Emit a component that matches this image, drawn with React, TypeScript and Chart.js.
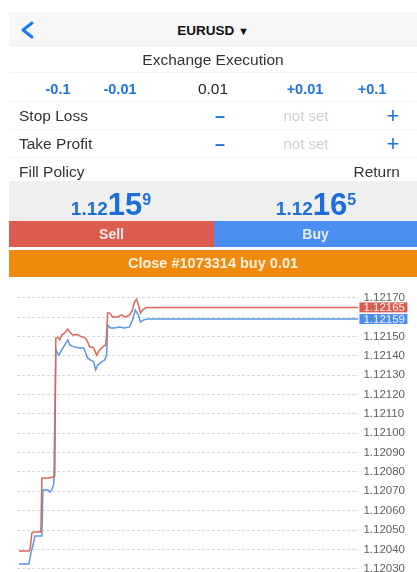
import React, { useEffect, useRef } from 'react';
import { Chart, registerables } from 'chart.js';

Chart.register(...registerables);

// ---- data ----
const symbol = 'EURUSD';
const lotSteps = ['-0.1', '-0.01', '0.01', '+0.01', '+0.1'];
const bidPrice = '1.12159';
const askPrice = '1.12165';
const closeLabel = 'Close #1073314 buy 0.01';

const askTimes = [2, 12, 13, 14, 15, 17, 24, 25, 33, 36, 38, 39, 41, 43, 45, 48, 51, 53, 56, 61, 64, 66, 69, 71, 73, 76, 78, 80, 83, 86, 89, 90, 91, 93, 96, 101, 105, 109, 113, 116, 118, 120, 122, 124, 126, 129, 132, 343];
const askPrices = [1.120392, 1.120392, 1.120397, 1.12044, 1.120485, 1.12049, 1.12049, 1.120769, 1.120769, 1.120774, 1.12078, 1.121492, 1.121495, 1.121482, 1.121507, 1.121518, 1.121538, 1.121523, 1.121507, 1.12151, 1.1215, 1.121497, 1.12149, 1.121471, 1.121445, 1.121445, 1.12143, 1.121403, 1.12143, 1.121445, 1.121456, 1.1215, 1.121621, 1.121621, 1.1216, 1.1216, 1.121611, 1.1216, 1.121611, 1.121636, 1.121678, 1.121693, 1.121662, 1.121621, 1.121636, 1.121647, 1.12165, 1.12165];

const bidTimes = [2, 12, 14, 16, 18, 25, 26, 31, 33, 35, 37, 39, 42, 45, 48, 51, 53, 58, 63, 67, 69, 71, 74, 77, 79, 81, 85, 88, 90, 91, 94, 98, 103, 108, 113, 116, 119, 122, 124, 127, 131, 343];
const bidPrices = [1.120324, 1.120324, 1.120381, 1.120422, 1.120469, 1.120469, 1.120707, 1.120707, 1.120696, 1.120707, 1.12074, 1.12143, 1.121404, 1.12143, 1.121456, 1.121482, 1.121456, 1.121445, 1.12144, 1.12144, 1.121414, 1.121389, 1.121378, 1.121368, 1.121327, 1.121352, 1.121368, 1.121378, 1.121404, 1.121559, 1.121543, 1.121543, 1.121549, 1.121543, 1.121549, 1.121585, 1.121636, 1.121611, 1.121574, 1.121585, 1.12159, 1.12159];

const yTicks = [1.1203, 1.1204, 1.1205, 1.1206, 1.1207, 1.1208, 1.1209, 1.121, 1.1211, 1.1212, 1.1213, 1.1214, 1.1215, 1.1216, 1.1217];
const Y_MIN = 1.1202573;
const Y_MAX = 1.1217656;
const T_MAX = 343;

const ASK_COLOR = '#d9685b';
const BID_COLOR = '#5a96e2';
const FONT = "'Liberation Sans', Arial, Helvetica, sans-serif";

const badgePlugin = {
  id: 'lastBadges',
  afterDraw(chart: any) {
    const { ctx, chartArea } = chart;
    const y = chart.scales.y;
    const items = [
      { v: askPrices[askPrices.length - 1], bg: '#dc5d50' },
      { v: bidPrices[bidPrices.length - 1], bg: '#4a8ef0' },
    ];
    ctx.save();
    ctx.font = `11.5px ${FONT}`;
    ctx.textBaseline = 'middle';
    ctx.textAlign = 'left';
    items.forEach((it) => {
      const py = y.getPixelForValue(it.v);
      ctx.fillStyle = it.bg;
      ctx.fillRect(chartArea.right + 1, py - 5, 48, 10);
      ctx.fillStyle = '#f4f4f4';
      ctx.fillText(it.v.toFixed(5), chartArea.right + 5, py + 0.5);
    });
    ctx.restore();
  },
};

function PriceChart() {
  const ref = useRef<HTMLCanvasElement>(null);
  useEffect(() => {
    if (!ref.current) return;
    const lastAsk = askPrices[askPrices.length - 1];
    const lastBid = bidPrices[bidPrices.length - 1];
    const chart = new Chart(ref.current, {
      type: 'line',
      data: {
        datasets: [
          {
            label: 'Ask',
            data: askTimes.map((t, i) => ({ x: t, y: askPrices[i] })),
            borderColor: ASK_COLOR,
            borderWidth: 1.5,
            pointRadius: 0,
            tension: 0,
            fill: false,
          },
          {
            label: 'Bid',
            data: bidTimes.map((t, i) => ({ x: t, y: bidPrices[i] })),
            borderColor: BID_COLOR,
            borderWidth: 1.5,
            pointRadius: 0,
            tension: 0,
            fill: false,
          },
        ],
      },
      options: {
        animation: false,
        responsive: false,
        maintainAspectRatio: false,
        layout: { padding: { left: 8, right: 7, top: 14, bottom: 14 } },
        plugins: { legend: { display: false }, tooltip: { enabled: false } },
        scales: {
          x: { type: 'linear', min: 0, max: T_MAX, display: false },
          y: {
            position: 'right',
            min: Y_MIN,
            max: Y_MAX,
            afterBuildTicks: (axis: any) => {
              axis.ticks = yTicks.map((v) => ({ value: v }));
            },
            ticks: {
              padding: 5,
              color: '#5f5f5f',
              font: { family: FONT, size: 11.5 },
              callback: (v: any) => {
                const n = Number(v);
                if (Math.abs(n - lastAsk) < 0.00003 || Math.abs(n - lastBid) < 0.00003) return '';
                return n.toFixed(5);
              },
            },
            grid: { color: '#d9d9d9', drawTicks: false, lineWidth: 1 },
            border: { display: false, dash: [3, 2] },
          },
        },
      },
      plugins: [badgePlugin],
    } as any);
    return () => chart.destroy();
  }, []);
  return (
    <canvas
      ref={ref}
      width={408}
      height={320}
      style={{ position: 'absolute', left: 9, top: 271, width: 408, height: 320 }}
    />
  );
}

const abs = (s: React.CSSProperties): React.CSSProperties => ({ position: 'absolute', ...s });
const BLUE = '#1b74e4';

function Price({ text, cx }: { text: string; cx: number }) {
  const head = text.slice(0, 4);
  const big = text.slice(4, 6);
  const tail = text.slice(6);
  return (
    <div style={abs({ left: cx - 80, width: 160, top: 185, height: 30, textAlign: 'center', color: '#1c6edb', fontWeight: 700, whiteSpace: 'nowrap', lineHeight: '30px' })}>
      <span style={{ fontSize: 19 }}>{head}</span>
      <span style={{ fontSize: 31 }}>{big}</span>
      <span style={{ fontSize: 16, verticalAlign: 10 }}>{tail}</span>
    </div>
  );
}

export default function App() {
  const lotX = [58, 120, 213, 305, 372];
  return (
    <div style={abs({ left: 0, top: 0, width: 417, height: 572, overflow: 'hidden', background: '#fff', fontFamily: FONT, color: '#333' })}>
      <PriceChart />
      {/* header */}
      <div style={abs({ left: 9, top: 12, width: 408, height: 33, background: '#f7f7f7', borderBottom: '1px solid #ececec' })} />
      <svg style={abs({ left: 18, top: 20, width: 20, height: 20 })} width={20} height={20}>
        <polyline points="14,3 5,10 14,17" fill="none" stroke="#1a7cf2" strokeWidth={3} strokeLinecap="round" strokeLinejoin="round" />
      </svg>
      <div style={abs({ left: 113, width: 200, top: 22, height: 18, textAlign: 'center', fontWeight: 700, fontSize: 13.5, lineHeight: '18px', color: '#111' })}>
        {symbol} <span style={{ fontSize: 11 }}>▼</span>
      </div>
      <div style={abs({ left: 113, width: 200, top: 51, height: 18, textAlign: 'center', fontSize: 15.5, lineHeight: '18px', color: '#333' })}>
        Exchange Execution
      </div>
      <div style={abs({ left: 9, top: 72, width: 408, height: 1, background: '#f3f3f3' })} />
      {lotSteps.map((s, i) => (
        <div key={s} style={abs({ left: lotX[i] - 40, width: 80, top: 80, height: 18, textAlign: 'center', fontSize: i === 2 ? 15.5 : 14.5, fontWeight: i === 2 ? 400 : 600, lineHeight: '18px', color: i === 2 ? '#222' : BLUE })}>
          {s}
        </div>
      ))}
      <div style={abs({ left: 9, top: 101, width: 408, height: 1, background: '#f5f5f5' })} />
      {[
        { label: 'Stop Loss', y: 116 },
        { label: 'Take Profit', y: 144 },
      ].map((r) => (
        <React.Fragment key={r.label}>
          <div style={abs({ left: 19, top: r.y - 9, height: 18, fontSize: 15.5, lineHeight: '18px', color: '#333' })}>{r.label}</div>
          <div style={abs({ left: 210, width: 20, top: r.y - 10, height: 20, textAlign: 'center', fontSize: 18, fontWeight: 700, lineHeight: '20px', color: BLUE })}>–</div>
          <div style={abs({ left: 266, width: 80, top: r.y - 9, height: 18, textAlign: 'center', fontSize: 15, lineHeight: '18px', color: '#cfcfcf' })}>not set</div>
          <div style={abs({ left: 383, width: 20, top: r.y - 11, height: 22, textAlign: 'center', fontSize: 22, lineHeight: '22px', color: BLUE })}>+</div>
          <div style={abs({ left: 9, top: r.y + 13, width: 408, height: 1, background: '#f5f5f5' })} />
        </React.Fragment>
      ))}
      <div style={abs({ left: 19, top: 163, height: 18, fontSize: 15.5, lineHeight: '18px', color: '#333' })}>Fill Policy</div>
      <div style={abs({ left: 300, width: 100, top: 163, height: 18, textAlign: 'right', fontSize: 15.5, lineHeight: '18px', color: '#333' })}>Return</div>
      {/* prices */}
      <div style={abs({ left: 9, top: 181, width: 408, height: 40, background: '#efefef' })} />
      <Price text={bidPrice} cx={111} />
      <Price text={askPrice} cx={316} />
      {/* sell / buy */}
      <div style={abs({ left: 9, top: 221, width: 205, height: 26, background: '#dc5c50', color: '#fbecea', textAlign: 'center', fontWeight: 700, fontSize: 14, lineHeight: '26px' })}>Sell</div>
      <div style={abs({ left: 214, top: 221, width: 203, height: 26, background: '#4a8ef0', color: '#e6efff', textAlign: 'center', fontWeight: 700, fontSize: 14, lineHeight: '26px' })}>Buy</div>
      <div style={abs({ left: 9, top: 250, width: 408, height: 27, background: '#f08a0e', color: '#fff3e3', textAlign: 'center', fontWeight: 700, fontSize: 14.5, lineHeight: '27px' })}>{closeLabel}</div>
    </div>
  );
}
